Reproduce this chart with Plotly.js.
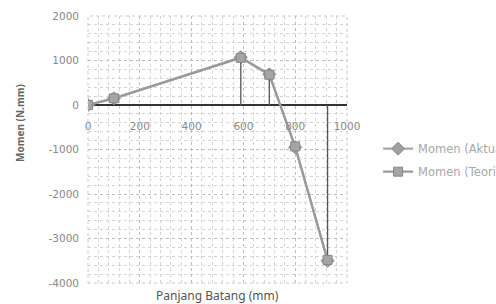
<!DOCTYPE html>
<html>
<head>
<meta charset="utf-8">
<script src="https://cdn.plot.ly/plotly-3.0.1.min.js"></script>
<style>html,body{margin:0;padding:0;background:#fff;overflow:hidden;}#chart{width:496px;height:304px;}</style>
</head>
<body>
<div id="chart"></div>
<script>
// Data
const panjang = [0, 100, 590, 700, 800, 925];
const momenAktual = [0, 150, 1075, 690, -950, -3500];
const momenTeori = [0, 150, 1060, 680, -930, -3480];
const hasDropLine = [false, false, true, true, false, true];
const seriesNames = ["Momen (Aktual)", "Momen (Teori)"];
const xTicks = [0, 200, 400, 600, 800, 1000];
const yTicks = [2000, 1000, 0, -1000, -2000, -3000, -4000];

const yMin = -4000, yMax = 2000;
const fnt = "Noto Sans, Liberation Sans, sans-serif";
const tickFnt = "DejaVu Sans, sans-serif";

// drop lines from Teori points to the x axis, derived from values
const dropUp = momenTeori.map((v, i) => hasDropLine[i] ? Math.max(-v, 0) : 0);
const dropDown = momenTeori.map((v, i) => hasDropLine[i] ? Math.max(v, 0) : 0);

const traces = [
  {
    x: panjang, y: momenAktual, name: seriesNames[0], legendgroup: "a", type: "scatter", mode: "lines+markers",
    line: {color: "#a8a8a8", width: 2.2},
    marker: {symbol: "diamond", size: 10, color: "#a0a0a0", line: {color: "#8a8a8a", width: 1}}
  },
  {
    x: panjang, y: momenTeori, name: seriesNames[1], legendgroup: "b", type: "scatter", mode: "lines+markers",
    line: {color: "#9a9a9a", width: 2.2},
    marker: {symbol: "square", size: 9, color: "#a5a5a5", line: {color: "#888", width: 1}},
    error_y: {type: "data", symmetric: false, array: dropUp, arrayminus: dropDown,
              width: 0, thickness: 1.3, color: "#555"}
  }
];

const layout = {
  width: 496, height: 304,
  margin: {l: 88, r: 149, t: 16, b: 21, autoexpand: false},
  paper_bgcolor: "#fff", plot_bgcolor: "#fff",
  font: {family: fnt, size: 10, color: "#666"},
  showlegend: true,
  legend: {x: 1.12, y: 0.46, xanchor: "left", yanchor: "middle",
           font: {family: tickFnt, size: 11.5, color: "#a8a8a8"}, bgcolor: "rgba(0,0,0,0)",
           tracegroupgap: 4, itemwidth: 30},
  xaxis: {
    range: [0, 1000], tickvals: xTicks, ticktext: xTicks.map(String),
    anchor: "free", position: (0 - yMin) / (yMax - yMin),
    showline: false, ticks: "", ticklabelstandoff: 13,
    showgrid: true, gridcolor: "#bdbdbd", griddash: "dot", gridwidth: 1,
    minor: {dtick: 40, showgrid: true, gridcolor: "#d4d4d4", griddash: "dot", gridwidth: 1},
    zeroline: false,
    tickfont: {family: tickFnt, size: 10.5, color: "#888"},
    title: {text: ""}
  },
  yaxis: {
    range: [yMin, yMax], tickvals: yTicks, ticktext: yTicks.map(String),
    showline: false, ticks: "", ticklabelstandoff: 8,
    showgrid: true, gridcolor: "#bdbdbd", griddash: "dot", gridwidth: 1,
    minor: {dtick: 200, showgrid: true, gridcolor: "#d4d4d4", griddash: "dot", gridwidth: 1},
    zeroline: true, zerolinecolor: "#333", zerolinewidth: 1.5,
    tickfont: {family: tickFnt, size: 10.5, color: "#888"},
    title: {text: ""}
  },
  shapes: [
    {type: "rect", xref: "paper", yref: "paper", x0: 0, x1: 1, y0: 0, y1: 1,
     line: {color: "#c8c8c8", width: 1, dash: "dot"}}
  ],
  annotations: [
    {text: "Panjang Batang (mm)", xref: "paper", yref: "paper", x: 0.5, y: -0.045,
     xanchor: "center", yanchor: "middle", showarrow: false,
     font: {family: fnt, size: 12, color: "#555"}},
    {text: "<b>Momen (N.mm)</b>", xref: "paper", yref: "paper", x: -0.262, y: 0.6,
     xanchor: "center", yanchor: "middle", textangle: -90, showarrow: false,
     font: {family: fnt, size: 10, color: "#666"}}
  ]
};

Plotly.newPlot("chart", traces, layout, {displayModeBar: false, staticPlot: true});
</script>
</body>
</html>
